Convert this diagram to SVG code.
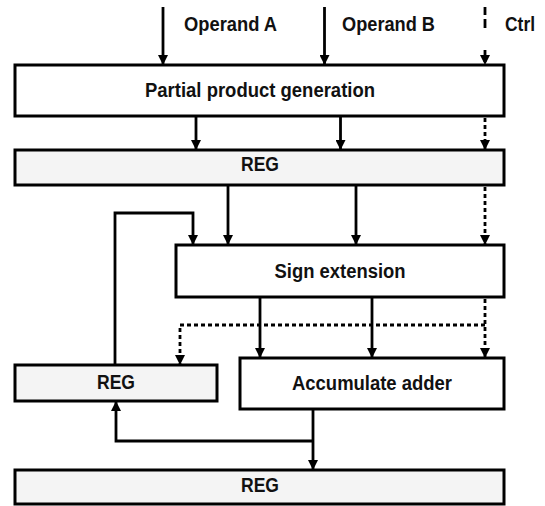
<svg xmlns="http://www.w3.org/2000/svg" width="545" height="506" viewBox="0 0 545 506">
  <style>
    .box { fill: #ffffff; stroke: #000000; stroke-width: 3; }
    .reg { fill: #f4f4f4; stroke: #000000; stroke-width: 3; }
    .lbl { font-family: "Liberation Sans", Arial, sans-serif; font-weight: bold; font-size: 20px; fill: #111111; }
    .mid { text-anchor: middle; }
    .wire { fill: none; stroke: #000000; stroke-width: 2.8; }
    .ctl { fill: none; stroke: #000000; stroke-width: 2.8; stroke-dasharray: 4 3; }
  </style>
  <defs>
    <marker id="arrow" markerUnits="userSpaceOnUse" viewBox="0 0 10 10" refX="10" refY="5" markerWidth="10" markerHeight="10" orient="auto">
      <path d="M0,0 L10,5 L0,10 z" fill="#000000"/>
    </marker>
  </defs>

  <rect x="0" y="0" width="545" height="506" fill="#ffffff"/>

  <!-- input labels -->
  <g id="inputs">
    <text class="lbl" x="184" y="31" textLength="93" lengthAdjust="spacingAndGlyphs">Operand A</text>
    <text class="lbl" x="342" y="31" textLength="93" lengthAdjust="spacingAndGlyphs">Operand B</text>
    <text class="lbl" x="505" y="31" textLength="30" lengthAdjust="spacingAndGlyphs">Ctrl</text>
  </g>

  <g id="pp-gen">
    <rect class="box" x="15" y="65" width="489" height="51"/>
    <text class="lbl mid" x="260" y="97" textLength="230" lengthAdjust="spacingAndGlyphs">Partial product generation</text>
  </g>

  <g id="reg-pp">
    <rect class="reg" x="15" y="150" width="489" height="35"/>
    <text class="lbl mid" x="260" y="171" textLength="38" lengthAdjust="spacingAndGlyphs">REG</text>
  </g>

  <g id="sign-ext">
    <rect class="box" x="176" y="245" width="328" height="52"/>
    <text class="lbl mid" x="340" y="278" textLength="131" lengthAdjust="spacingAndGlyphs">Sign extension</text>
  </g>

  <g id="reg-acc">
    <rect class="reg" x="15" y="365" width="202" height="36"/>
    <text class="lbl mid" x="116" y="389" textLength="38" lengthAdjust="spacingAndGlyphs">REG</text>
  </g>

  <g id="acc-adder">
    <rect class="box" x="240" y="358" width="264" height="51"/>
    <text class="lbl mid" x="372" y="390" textLength="160" lengthAdjust="spacingAndGlyphs">Accumulate adder</text>
  </g>

  <g id="reg-out">
    <rect class="reg" x="15" y="470" width="489" height="34"/>
    <text class="lbl mid" x="260" y="492" textLength="38" lengthAdjust="spacingAndGlyphs">REG</text>
  </g>

  <g id="connectors">
    <!-- operands into partial product generation -->
    <line class="wire" x1="163" y1="7" x2="163" y2="65" marker-end="url(#arrow)"/>
    <line class="wire" x1="324.5" y1="7" x2="324.5" y2="65" marker-end="url(#arrow)"/>
    <line class="wire" x1="485" y1="7" x2="485" y2="65" style="stroke-dasharray: 8 4 9 22 12" marker-end="url(#arrow)"/>

    <!-- partial products into register -->
    <line class="wire" x1="196" y1="116" x2="196" y2="150" marker-end="url(#arrow)"/>
    <line class="wire" x1="340.5" y1="116" x2="340.5" y2="150" marker-end="url(#arrow)"/>
    <line class="ctl" x1="485" y1="118" x2="485" y2="150" marker-end="url(#arrow)"/>

    <!-- register into sign extension -->
    <line class="wire" x1="228" y1="185" x2="228" y2="245" marker-end="url(#arrow)"/>
    <line class="wire" x1="356" y1="185" x2="356" y2="245" marker-end="url(#arrow)"/>
    <line class="ctl" x1="485" y1="187" x2="485" y2="245" marker-end="url(#arrow)"/>

    <!-- accumulator feedback into sign extension -->
    <polyline class="wire" points="115,365 115,213 193,213 193,245" marker-end="url(#arrow)"/>

    <!-- sign extension into accumulate adder -->
    <line class="wire" x1="260" y1="297" x2="260" y2="358" marker-end="url(#arrow)"/>
    <line class="wire" x1="372" y1="297" x2="372" y2="358" marker-end="url(#arrow)"/>
    <line class="ctl" x1="485" y1="299" x2="485" y2="358" marker-end="url(#arrow)"/>

    <!-- control branch to accumulator register -->
    <polyline class="ctl" points="485,325 180,325 180,365" marker-end="url(#arrow)"/>

    <!-- adder output to result register and accumulator register -->
    <line class="wire" x1="313" y1="409" x2="313" y2="470" marker-end="url(#arrow)"/>
    <polyline class="wire" points="313,441 116,441 116,401" marker-end="url(#arrow)"/>
  </g>
</svg>
